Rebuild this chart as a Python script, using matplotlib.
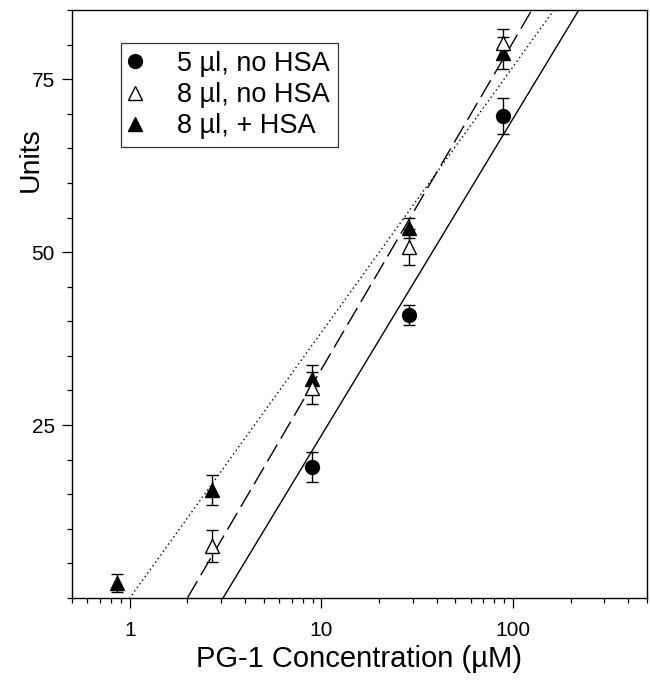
import numpy as np
import matplotlib
matplotlib.use("Agg")
import matplotlib.pyplot as plt
from matplotlib.ticker import FixedLocator, MultipleLocator, LogLocator, NullFormatter, FuncFormatter

plt.rcParams['font.family'] = ['Liberation Sans', 'DejaVu Sans']

# ---- data ----
# 5 µl, no HSA (filled circles) - no point at lowest concentrations
x_5 = [8.9, 28.5, 89.0]
y_5 = [18.9, 40.9, 69.7]
e_5 = [2.2, 1.5, 2.6]

# 8 µl, no HSA (open triangles)
x_8 = [2.7, 8.9, 28.5, 89.0]
y_8 = [7.5, 30.3, 50.8, 80.2]
e_8 = [2.3, 2.3, 2.6, 2.1]

# 8 µl, + HSA (filled triangles)
x_h = [0.86, 2.7, 8.9, 28.5, 89.0]
y_h = [2.2, 15.6, 31.7, 53.5, 78.8]
e_h = [1.3, 2.2, 2.0, 1.5, 2.3]

labels = ["5 µl, no HSA", "8 µl, no HSA", "8 µl, + HSA"]

# regression lines: units = slope * (log10(x) - log10(x0))
fit_x0 = [3.07, 2.0, 1.0]
fit_slope = [45.8, 47.3, 38.4]
fit_styles = ['-', (0, (14, 5)), (0, (1, 2.2))]

xticks_major = [1, 10, 100]
yticks_major = [25, 50, 75]

# ---- figure ----
fig = plt.figure(figsize=(6.5, 6.88), dpi=100)
ax = fig.add_axes([72/650, 1-598/688, 575/650, 588/688])

xx = np.logspace(np.log10(0.5), np.log10(500), 400)
for x0, s, ls in zip(fit_x0, fit_slope, fit_styles):
    ax.plot(xx, s * (np.log10(xx) - np.log10(x0)), color='black', lw=1.0, ls=ls, zorder=2)

eb_kw = dict(fmt='none', ecolor='black', elinewidth=1.0, capsize=4.5, capthick=1.0, zorder=3)
ax.errorbar(x_5, y_5, yerr=e_5, **eb_kw)
ax.errorbar(x_h, y_h, yerr=e_h, **eb_kw)
ax.errorbar(x_8, y_8, yerr=e_8, **eb_kw)

ax.plot(x_5, y_5, 'o', ms=10, mfc='black', mec='black', ls='none', label=labels[0], zorder=4)
ax.plot(x_8, y_8, '^', ms=10.5, mfc='white', mec='black', mew=1.0, ls='none', label=labels[1], zorder=5)
ax.plot(x_h, y_h, '^', ms=10.5, mfc='black', mec='black', ls='none', label=labels[2], zorder=4)

ax.set_xscale('log')
ax.set_xlim(0.5, 500)
ax.set_ylim(0, 85)

ax.xaxis.set_major_locator(FixedLocator(xticks_major))
ax.xaxis.set_major_formatter(FuncFormatter(lambda v, p: f"{v:g}"))
ax.xaxis.set_minor_locator(LogLocator(base=10, subs=np.arange(2, 10)))
ax.xaxis.set_minor_formatter(NullFormatter())
ax.yaxis.set_major_locator(FixedLocator(yticks_major))
ax.yaxis.set_minor_locator(MultipleLocator(5))

ax.tick_params(which='both', direction='out', top=False, right=False, width=0.9, colors='black')
ax.tick_params(which='major', length=7.5, labelsize=15)
ax.tick_params(which='minor', length=3.8)
ax.tick_params(axis='x', which='major', pad=9)
ax.tick_params(axis='y', which='major', pad=5)
for sp in ax.spines.values():
    sp.set_linewidth(1.0)

ax.set_xlabel("PG-1 Concentration (µM)", fontsize=21, labelpad=4)
ax.set_ylabel("Units", fontsize=20.5)
ax.yaxis.set_label_coords(-0.05, 0.745)

leg = ax.legend(loc='upper left', bbox_to_anchor=(49/575, 1-33/588), borderaxespad=0,
                fontsize=19.5, frameon=True, fancybox=False, edgecolor='black',
                borderpad=0.28, handlelength=0.5, handletextpad=1.3, labelspacing=0.2,
                numpoints=1)
leg.get_frame().set_linewidth(0.9)

fig.savefig("out.png", dpi=100)
